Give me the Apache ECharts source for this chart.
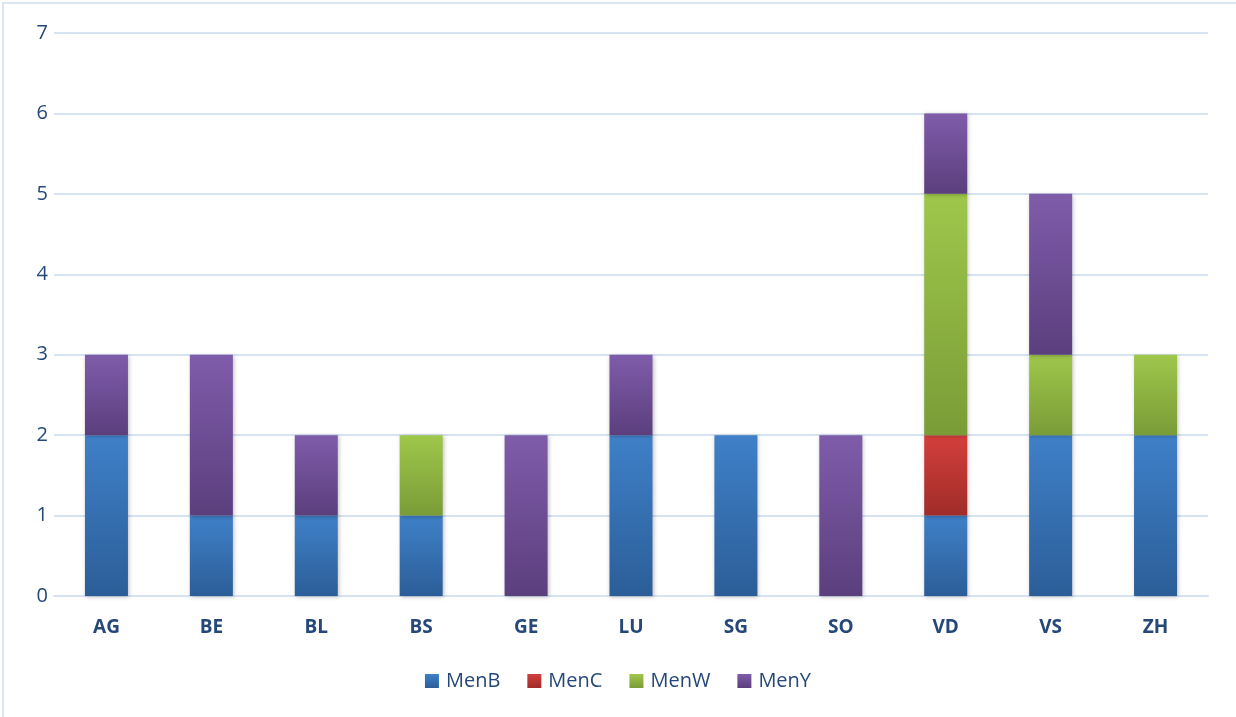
<!DOCTYPE html>
<html>
<head>
<meta charset="utf-8">
<script src="https://cdn.jsdelivr.net/npm/echarts@6/dist/echarts.min.js"></script>
<style>
html,body{margin:0;padding:0;background:#fff;overflow:hidden;}
#frame{position:absolute;left:2px;top:2px;width:1300px;height:800px;border:2px solid #DCE6F2;box-sizing:border-box;}
#chart{position:absolute;left:0;top:0;width:1236px;height:717px;}
</style>
</head>
<body>
<div id="frame"></div>
<div id="chart"></div>
<script>
const categories = ['AG','BE','BL','BS','GE','LU','SG','SO','VD','VS','ZH'];
const menB = [2,1,1,1,0,2,2,0,1,2,2];
const menC = [0,0,0,0,0,0,0,0,1,0,0];
const menW = [0,0,0,1,0,0,0,0,3,1,1];
const menY = [1,2,1,0,2,1,0,2,1,2,0];
const yTicks = [0,1,2,3,4,5,6,7];

const textColor = '#254878';
function grad(top, bottom){
  return new echarts.graphic.LinearGradient(0,0,0,1,[{offset:0,color:top},{offset:1,color:bottom}]);
}
function mk(name, data, top, bottom){
  return {
    name, type:'bar', stack:'total', data: data.map(v => v === 0 ? null : v),
    barWidth:'41%',
    itemStyle:{color:grad(top,bottom), shadowBlur:4, shadowColor:'rgba(0,0,0,0.25)', shadowOffsetX:1, shadowOffsetY:1},
    emphasis:{disabled:true}
  };
}
const chart = echarts.init(document.getElementById('chart'), null, {renderer:'canvas'});
chart.setOption({
  animation:false,
  backgroundColor:'transparent',
  grid:{left:54, right:28, top:33, bottom:121, containLabel:false},
  legend:{
    top:666, left:'center', itemWidth:14, itemHeight:14, itemGap:27, icon:'rect',
    textStyle:{color:textColor, fontSize:20, fontFamily:'Open Sans', padding:[0,0,0,2]},
    data:[
      {name:'MenB', itemStyle:{color:grad('#3F80C8','#2B5E98')}},
      {name:'MenC', itemStyle:{color:grad('#D33F3B','#A02C29')}},
      {name:'MenW', itemStyle:{color:grad('#9FC74B','#7A9C37')}},
      {name:'MenY', itemStyle:{color:grad('#7F5CAA','#5B3F7D')}}
    ]
  },
  xAxis:{
    type:'category', data:categories,
    axisLine:{show:true, lineStyle:{color:'#D6E3F3', width:2}},
    axisTick:{show:false},
    axisLabel:{color:textColor, fontSize:19, fontWeight:'bold', fontFamily:'Open Sans', margin:22}
  },
  yAxis:{
    type:'value', min:yTicks[0], max:yTicks[yTicks.length-1], interval:1,
    axisLine:{show:false}, axisTick:{show:false},
    splitLine:{lineStyle:{color:'#D6E3F3', width:2}},
    axisLabel:{color:textColor, fontSize:20, fontFamily:'Open Sans', margin:6, align:'right'}
  },
  series:[
    mk('MenB', menB, '#3F80C8', '#2B5E98'),
    mk('MenC', menC, '#D33F3B', '#A02C29'),
    mk('MenW', menW, '#9FC74B', '#7A9C37'),
    mk('MenY', menY, '#7F5CAA', '#5B3F7D')
  ]
});
</script>
</body>
</html>
